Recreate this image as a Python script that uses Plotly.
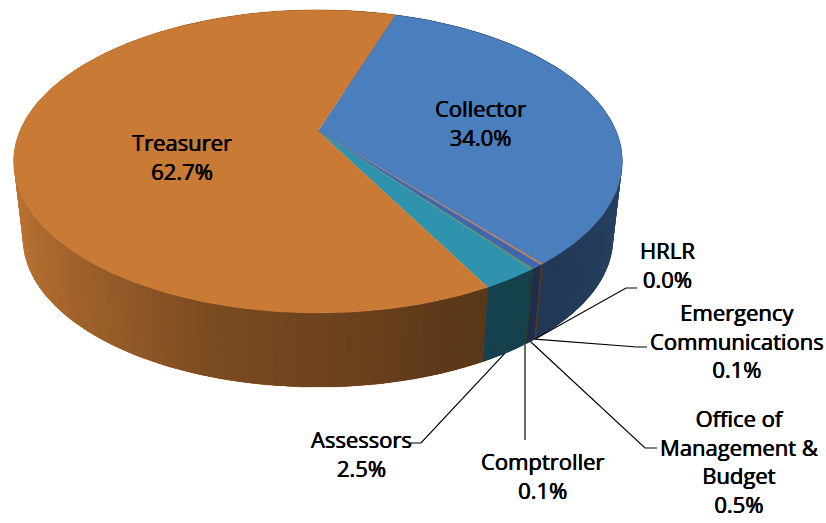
import math
import plotly.graph_objects as go

# ---- data ----
categories = ["Collector", "HRLR", "Emergency<br>Communications", "Office of<br>Management &<br>Budget",
              "Comptroller", "Assessors", "Treasurer"]
values = [34.0, 0.0, 0.1, 0.5, 0.1, 2.5, 62.7]

# ---- style ----
colors = ["#4A7EBC", "#C97B36", "#D9782F", "#3F66B0", "#5E8A4A", "#2F93AE", "#C97B36"]
FONT = "Open Sans"
FS = 22
first_angle = 18.0
# projection of the pie disc (x right, y down, pixels of the 826x523 canvas)
CX, CY = 318.0, 131.0
TOP = dict(R=298.0, S=145.4, k=0.2013, cy=CY)
BOT = dict(R=289.0, S=143.0, k=0.2013, cy=208.0)
# label anchor (centre x, centre y) and leader elbow points, canvas pixels
label_pos = {"Collector": (480, 122), "Treasurer": (182, 156), "HRLR": (667, 264),
             "Emergency<br>Communications": (737, 340), "Office of<br>Management &<br>Budget": (739, 461),
             "Comptroller": (542, 475), "Assessors": (361, 453)}
leaders = {"HRLR": ([626, 637], [288, 288], "#000000", 1.2),
           "Emergency<br>Communications": ([637, 647], [347, 347], "#000000", 1.2),
           "Office of<br>Management &<br>Budget": ([645, 657], [448, 448], "#000000", 1.2),
           "Comptroller": ([525, 525], [440, 440], "#6a6a6a", 2),
           "Assessors": ([421, 411], [443, 443], "#000000", 1.2)}
shade_u = [-1.0, -0.7, -0.3, 0.0, 0.4, 0.6, 1.0]
shade_f = [0.95, 0.80, 0.62, 0.55, 0.45, 0.44, 0.52]


def proj(a, disc, r=1.0):
    t = math.radians(a)
    u, v = r * math.sin(t), -r * math.cos(t)
    d = 1 - disc["k"] * v
    return CX + disc["R"] * u / d, disc["cy"] + disc["S"] * v / d


def shade(hexc, u):
    f = shade_f[-1]
    for i in range(len(shade_u) - 1):
        if shade_u[i] <= u <= shade_u[i + 1]:
            w = (u - shade_u[i]) / (shade_u[i + 1] - shade_u[i])
            f = shade_f[i] + w * (shade_f[i + 1] - shade_f[i])
            break
    r, g, b = (int(hexc[i:i + 2], 16) for i in (1, 3, 5))
    return f"rgb({r * f:.0f},{g * f:.0f},{b * f:.0f})"


def poly(pts, col, width=0.0):
    xs = [q[0] for q in pts] + [pts[0][0]]
    ys = [q[1] for q in pts] + [pts[0][1]]
    fig.add_trace(go.Scatter(x=xs, y=ys, mode="lines", fill="toself", fillcolor=col,
                             line=dict(color=col, width=width), hoverinfo="skip", showlegend=False))


total = sum(values)
starts, a = [], first_angle
for v in values:
    starts.append(a)
    a += v / total * 360

fig = go.Figure()

# side walls, far to near; each slice gets an underlay so that no seam shows
quads, under = [], []
for i, v in enumerate(values):
    sweep = v / total * 360
    if sweep <= 0:
        continue
    under.append((starts[i], starts[i] + sweep, i))
    n = max(1, int(sweep / 1.0))
    for j in range(n):
        a0 = starts[i] + sweep * j / n
        a1 = starts[i] + sweep * (j + 1) / n
        quads.append((max(starts[i], a0 - 0.7), min(starts[i] + sweep, a1 + 0.7), a0, a1, i))

for s, e, i in sorted(under, key=lambda q: -math.cos(math.radians((q[0] + q[1]) / 2))):
    n = max(2, int(e - s))
    ang = [s + (e - s) * j / n for j in range(n + 1)]
    pts = [proj(t, TOP) for t in ang] + [proj(t, BOT) for t in reversed(ang)]
    poly(pts, shade(colors[i], math.sin(math.radians((s + e) / 2))), 0.6)

for e0, e1, a0, a1, i in sorted(quads, key=lambda q: -math.cos(math.radians((q[2] + q[3]) / 2))):
    pts = [proj(e0, TOP), proj(e1, TOP), proj(e1, BOT), proj(e0, BOT)]
    poly(pts, shade(colors[i], math.sin(math.radians((a0 + a1) / 2))))

# top faces
for i, v in enumerate(values):
    sweep = v / total * 360
    if sweep <= 0:
        continue
    n = max(2, int(sweep))
    pts = [(CX, CY)] + [proj(starts[i] + sweep * j / n, TOP) for j in range(n + 1)]
    poly(pts, colors[i], 0.3)

# leaders and labels
for i, (c, v) in enumerate(zip(categories, values)):
    if c in leaders:
        xs, ys, col, w = leaders[c]
        x0, y0 = proj(starts[i] + v / total * 180, BOT)
        if xs[0] == xs[1]:
            x0 = xs[0]
        fig.add_trace(go.Scatter(x=[x0] + xs, y=[y0] + ys, mode="lines", line=dict(color=col, width=w),
                                 hoverinfo="skip", showlegend=False))
    lx, ly = label_pos[c]
    fig.add_annotation(x=lx, y=ly, xref="x", yref="y", text=f"{c}<br>{v:.1f}%", showarrow=False,
                       align="center",
                       font=dict(family=FONT, size=FS, color="#000000",
                                 shadow="0.35px 0 0 #000, -0.35px 0 0 #000"))

fig.update_layout(width=826, height=523, margin=dict(l=0, r=0, t=0, b=0), paper_bgcolor="white",
                  plot_bgcolor="white", showlegend=False,
                  xaxis=dict(range=[0, 826], visible=False, fixedrange=True),
                  yaxis=dict(range=[523, 0], visible=False, fixedrange=True))
fig.write_html("out.html", post_script="document.body.style.margin='0';", config={"displayModeBar": False})
